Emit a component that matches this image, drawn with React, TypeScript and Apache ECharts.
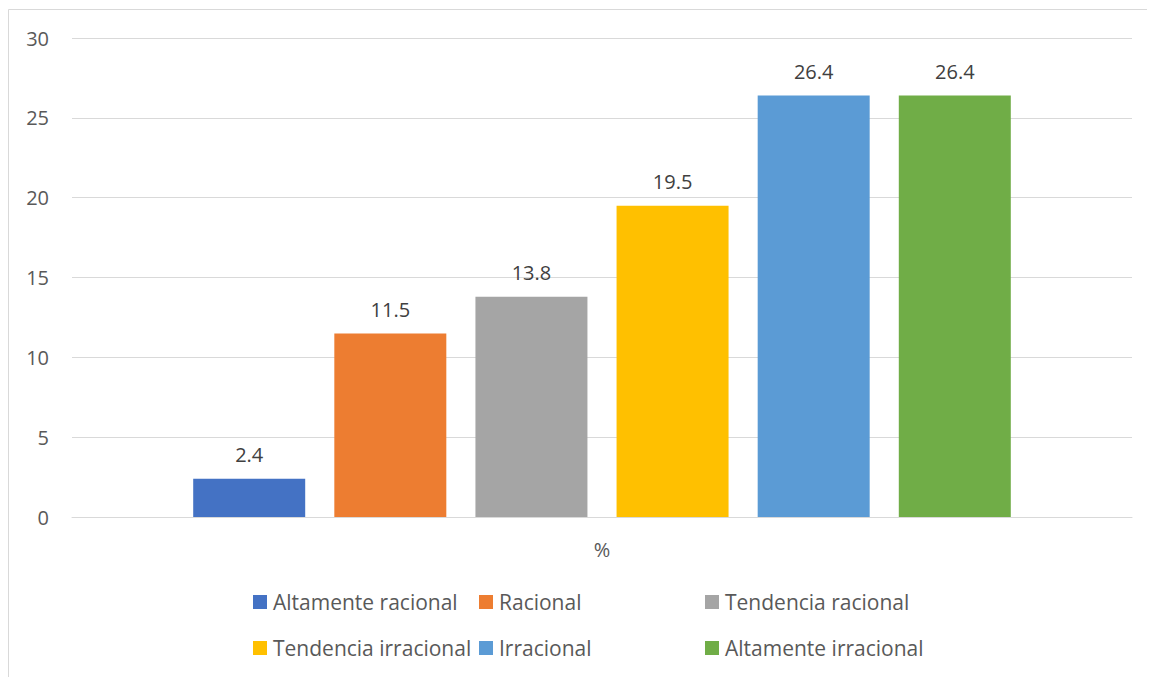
import React, { useEffect, useRef } from "react";
import * as echarts from "echarts";

const categories = ["%"];
const seriesNames = [
  "Altamente racional",
  "Racional",
  "Tendencia racional",
  "Tendencia irracional",
  "Irracional",
  "Altamente irracional",
];
const seriesValues = [2.4, 11.5, 13.8, 19.5, 26.4, 26.4];
const seriesColors = ["#4472C4", "#ED7D31", "#A5A5A5", "#FFC000", "#5B9BD5", "#70AD47"];
const yTicks = { min: 0, max: 30, interval: 5 };

const FONT = "'Open Sans', 'Liberation Sans', sans-serif";

export default function App() {
  const ref = useRef<HTMLDivElement>(null);
  useEffect(() => {
    document.documentElement.style.overflow = "hidden";
    document.body.style.overflow = "hidden";
    const chart = echarts.init(ref.current!, null, { renderer: "svg" });
    const legendLefts = [245, 471, 697, 245, 471, 697];
    const legendTops = [583, 583, 583, 629, 629, 629];
    chart.setOption({
      animation: false,
      textStyle: { fontFamily: FONT },
      grid: { left: 64, right: 23, top: 30, bottom: 160, containLabel: false },
      graphic: [
        {
          type: "rect",
          shape: { x: 0.5, y: 1.5, width: 1300, height: 1000 },
          style: { fill: "none", stroke: "#D9D9D9", lineWidth: 1 },
          silent: true,
        },
      ],
      legend: seriesNames.map((n, i) => ({
        data: [n],
        left: legendLefts[i],
        top: legendTops[i],
        itemWidth: 14,
        itemHeight: 14,
        itemGap: 0,
        padding: 0,
        icon: "rect",
        textStyle: {
          fontSize: 21,
          lineHeight: 22,
          color: "#595959",
          fontFamily: FONT,
          padding: [0, 0, 0, 1],
        },
      })),
      xAxis: {
        type: "category",
        data: categories,
        axisLine: { lineStyle: { color: "#D9D9D9", width: 1 } },
        axisTick: { show: false },
        axisLabel: { fontSize: 20, color: "#595959", margin: 22, fontFamily: FONT },
      },
      yAxis: {
        type: "value",
        min: yTicks.min,
        max: yTicks.max,
        interval: yTicks.interval,
        axisLine: { show: false },
        axisTick: { show: false },
        splitLine: { lineStyle: { color: "#D9D9D9", width: 1 } },
        axisLabel: { fontSize: 20, color: "#595959", margin: 23, fontFamily: FONT },
      },
      series: seriesNames.map((n, i) => ({
        type: "bar",
        name: n,
        data: [seriesValues[i]],
        barWidth: 112,
        barGap: "26%",
        itemStyle: { color: seriesColors[i] },
        label: {
          show: true,
          position: "top",
          distance: 14,
          fontSize: 20,
          color: "#404040",
          fontFamily: FONT,
        },
      })),
    });
    return () => chart.dispose();
  }, []);
  return <div ref={ref} style={{ width: 1147, height: 669 }} />;
}
